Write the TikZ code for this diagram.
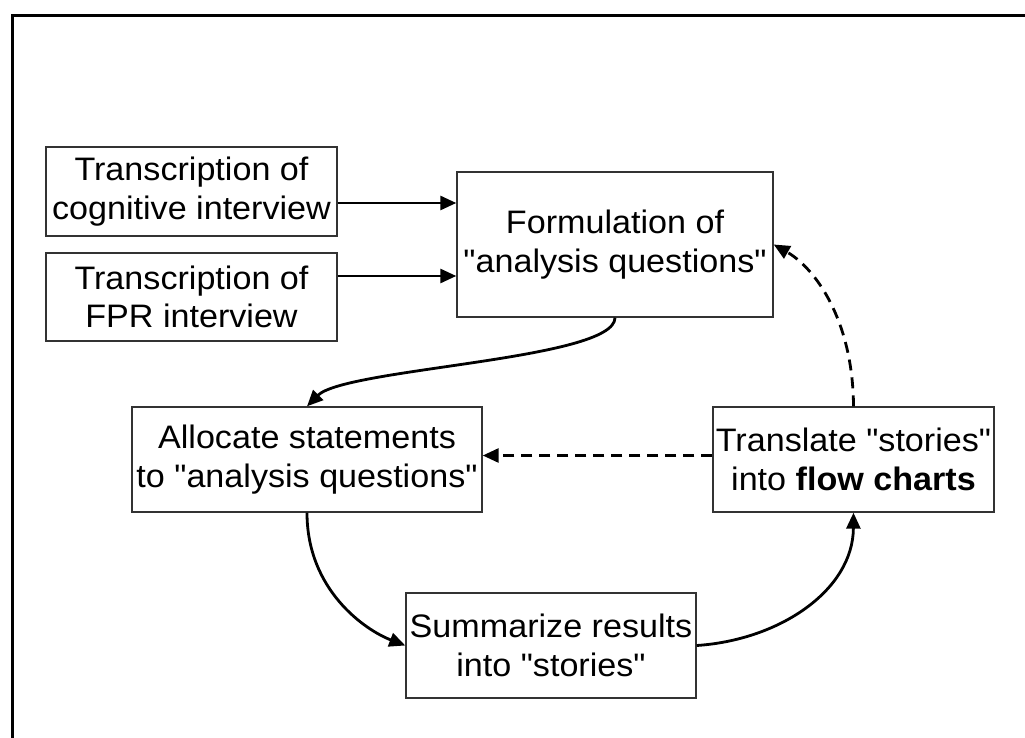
\documentclass[tikz,border=0pt]{standalone}
\usepackage{fontspec}
\newfontfamily\arialf{Liberation Sans}[FakeStretch=1.05]
\usetikzlibrary{arrows.meta}
\tikzset{
  box/.style={draw=black!80, line width=1.4pt, rectangle, inner sep=0pt, align=center,
    font=\arialf\fontsize{32.5}{38.5}\selectfont},
  conn/.style={line width=2.8pt, -{Triangle[length=16pt,width=14pt]}},
  dconn/.style={conn, dash pattern=on 11pt off 7pt},
  frame/.style={draw=black, line width=3pt}
}
\begin{document}
\begin{tikzpicture}[x=1pt,y=-1pt]
\useasboundingbox (0,0) rectangle (1025,738);
\clip (0,0) rectangle (1025,738);
\draw[frame] (12,16) rectangle (1040,760);
\node[box, minimum width=291pt, minimum height=89pt] (T1) at (191.5,191.5) {Transcription of\\cognitive interview};
\node[box, minimum width=291pt, minimum height=88pt] (T2) at (191.5,297) {Transcription of\\FPR interview};
\node[box, minimum width=316pt, minimum height=145pt] (F) at (615,244.5) {Formulation of\\"analysis questions"};
\node[box, minimum width=350pt, minimum height=105pt] (A) at (307,459.5) {Allocate statements\\to "analysis questions"};
\node[box, minimum width=281pt, minimum height=105pt] (Tr) at (853.5,459.5) {Translate "stories"\\into \textbf{flow charts}};
\node[box, minimum width=290pt, minimum height=105pt] (S) at (551,645.5) {Summarize results\\into "stories"};
\draw[conn] (T1.east |- 0,203) -- (F.west |- 0,203);
\draw[conn] (T2.east |- 0,276) -- (F.west |- 0,276);
\draw[conn] (F.south) .. controls (615,360) and (345,368) .. (A.north);
\draw[conn] (A.south) .. controls (307,590) and (365,630) .. (S.west);
\draw[conn] (S.east) .. controls (780,640) and (853,590) .. (Tr.south);
\draw[dconn] (Tr.north) .. controls (853,320) and (815,268) .. (F.east);
\draw[dconn] ([yshift=4pt]Tr.west) -- ([yshift=4pt]A.east);
\end{tikzpicture}
\end{document}
